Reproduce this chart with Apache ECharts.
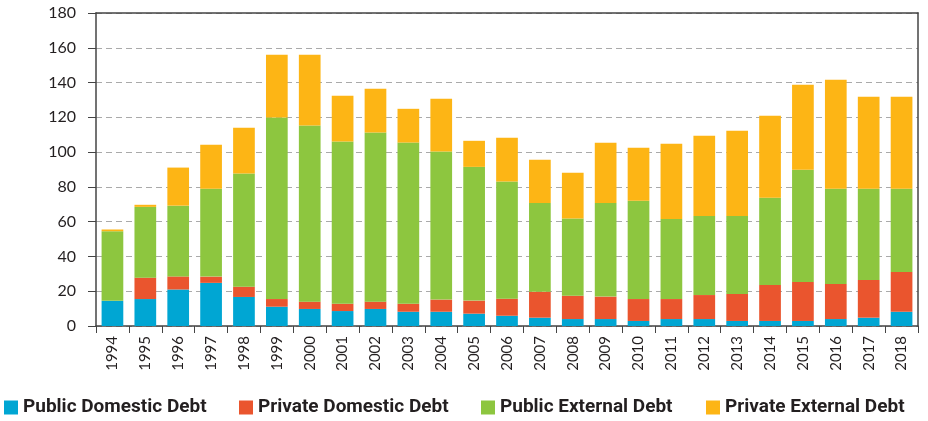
<!DOCTYPE html>
<html>
<head>
<meta charset="utf-8">
<script src="https://cdn.jsdelivr.net/npm/echarts@6/dist/echarts.min.js"></script>
<style>html,body{margin:0;padding:0;background:#fff}#c{width:928px;height:421px}</style>
</head>
<body>
<div id="c"></div>
<script>
const years = ['1994','1995','1996','1997','1998','1999','2000','2001','2002','2003','2004','2005','2006','2007','2008','2009','2010','2011','2012','2013','2014','2015','2016','2017','2018'];
const publicDomestic = [14.5,15.5,21,24.8,16.7,11.1,9.8,8.6,9.8,8.2,8.2,7.1,5.9,4.8,4,4,2.9,4,4,2.9,2.9,2.9,4,4.8,8.2];
const privateDomestic = [0,12.3,7.5,3.6,5.9,4.4,4.2,4.2,4.2,4.6,7,7.5,9.8,14.9,13.4,12.9,12.6,11.5,13.8,15.5,20.7,22.4,20.2,21.7,22.9];
const publicExternal = [40,40.7,40.7,50.5,65.1,104.4,101.3,93.3,97.3,92.7,85.1,76.9,67.4,51.1,44.4,53.9,56.5,46.1,45.5,44.9,50.1,64.5,54.7,52.4,47.8];
const privateExternal = [1,1.2,21.9,25.3,26.3,36.1,40.7,26.3,25.1,19.4,30.4,15,25.1,24.8,26.3,34.6,30.5,43.2,46.1,49,47.2,48.9,62.7,52.9,52.9];
const seriesNames = ['Public Domestic Debt','Private Domestic Debt','Public External Debt','Private External Debt'];
const colors = ['#00A6D3','#EA552E','#8DC63F','#FDB515'];
const yTicks = {min:0, max:180, interval:20};

const chart = echarts.init(document.getElementById('c'), null, {renderer:'canvas'});
const axisFont = "Lato, 'Open Sans', sans-serif";
const legendFont = "Roboto, 'Open Sans', sans-serif";
const dataSets = [publicDomestic, privateDomestic, publicExternal, privateExternal];
const legendLeft = [4, 239, 481, 706];
chart.setOption({
  animation:false,
  color: colors,
  grid:{left:96, right:10, top:13, bottom:95, containLabel:false},
  legend: seriesNames.map((n,i)=>({
    top:398, left:legendLeft[i], itemWidth:14, itemHeight:14, itemGap:0, padding:0,
    icon:'rect', selectedMode:false,
    textStyle:{fontFamily:legendFont, fontWeight:'bold', fontSize:19, color:'#231f20', padding:[0,0,0,0]},
    data:[n]
  })),
  xAxis:[{
    type:'category', data:years, boundaryGap:true,
    axisLine:{show:true, onZero:false, lineStyle:{color:'#444', width:1.5}},
    axisTick:{show:true, length:7, alignWithLabel:false, lineStyle:{color:'#444'}},
    axisLabel:{rotate:90, fontFamily:axisFont, fontSize:15, color:'#231f20', margin:10, interval:0}
  },{
    type:'category', data:years, position:'top',
    axisLine:{show:true, onZero:false, lineStyle:{color:'#444', width:1.5}},
    axisTick:{show:false}, axisLabel:{show:false}
  }],
  yAxis:[{
    type:'value', min:yTicks.min, max:yTicks.max, interval:yTicks.interval,
    axisLine:{show:true, lineStyle:{color:'#444', width:1.5}},
    axisTick:{show:true, length:8, lineStyle:{color:'#444'}},
    axisLabel:{fontFamily:axisFont, fontSize:16, color:'#231f20', margin:20},
    splitLine:{show:true, lineStyle:{color:'#aaa', type:[6,4], width:1.2}}
  },{
    type:'value', min:yTicks.min, max:yTicks.max, interval:yTicks.interval, position:'right',
    axisLine:{show:true, onZero:false, lineStyle:{color:'#444', width:1.5}},
    axisTick:{show:false}, axisLabel:{show:false}, splitLine:{show:false}
  }],
  series: seriesNames.map((n,i)=>({
    name:n, type:'bar', stack:'total', data:dataSets[i],
    barCategoryGap:'34%', itemStyle:{color:colors[i]}
  }))
});
</script>
</body>
</html>
